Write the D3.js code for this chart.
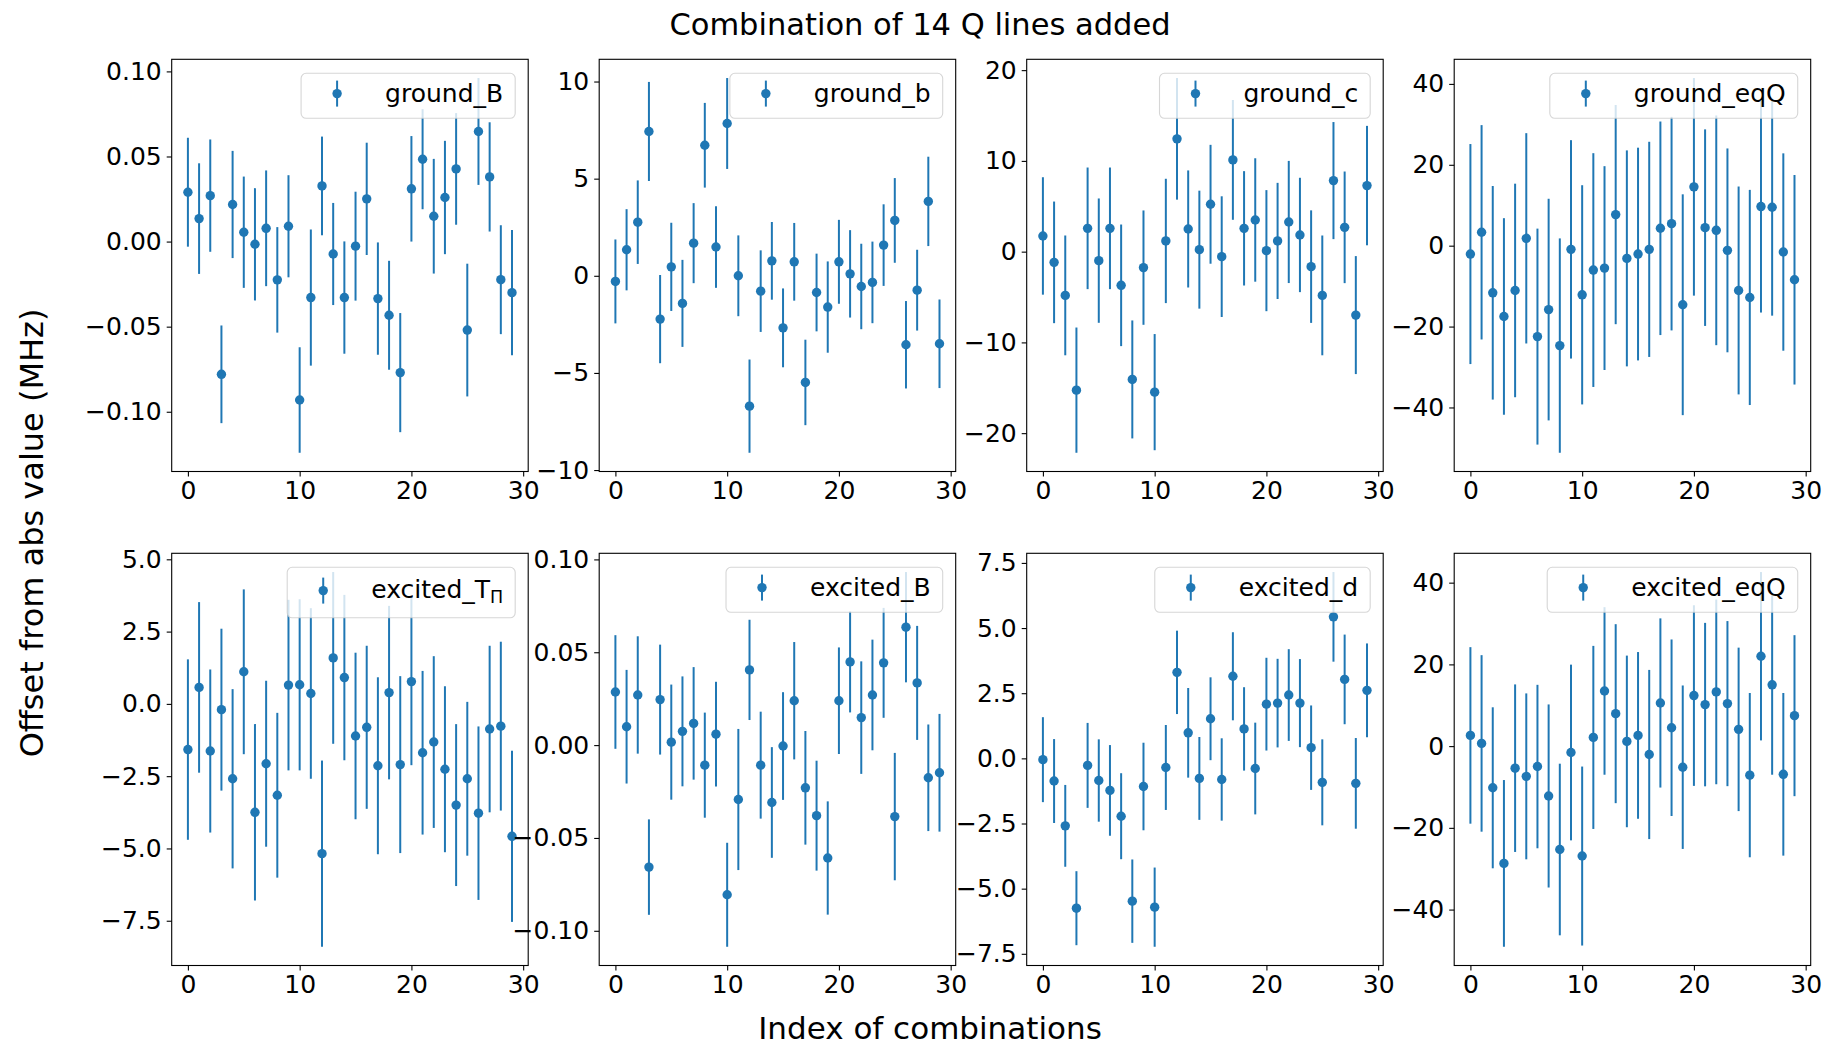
<!DOCTYPE html>
<html>
<head>
<meta charset="utf-8">
<script src="https://cdn.jsdelivr.net/npm/d3@7"></script>
<style>
  body { margin: 0; background: #fff; }
  svg { display: block; }
  text { font-family: "DejaVu Sans", sans-serif; fill: #000; }
</style>
</head>
<body>
<svg id="chart" width="1830" height="1048"></svg>
<script>
// Index of each line combination (x axis)
const combinationIndex = [0,1,2,3,4,5,6,7,8,9,10,11,12,13,14,15,16,17,18,19,20,21,22,23,24,25,26,27,28,29];

// Fitted offsets and 1-sigma uncertainties (MHz) per parameter
const groundBVal = [0.029, 0.0135, 0.027, -0.078, 0.0218, 0.0055, -0.0016, 0.0078, -0.0225, 0.009, -0.0931, -0.0329, 0.0327, -0.0073, -0.0329, -0.0027, 0.0251, -0.0335, -0.0433, -0.077, 0.031, 0.0484, 0.0149, 0.0259, 0.0427, -0.052, 0.0647, 0.038, -0.0224, -0.030];
const groundBErr = [0.032, 0.0325, 0.033, 0.0287, 0.0315, 0.0327, 0.033, 0.034, 0.031, 0.030, 0.031, 0.040, 0.029, 0.030, 0.033, 0.032, 0.033, 0.033, 0.032, 0.035, 0.031, 0.0294, 0.0337, 0.0333, 0.0328, 0.039, 0.0314, 0.0321, 0.032, 0.0368];

const groundSmallBVal = [-0.29, 1.34, 2.76, 7.43, -2.23, 0.46, -1.42, 1.68, 6.72, 1.48, 7.84, 0.0, -6.71, -0.79, 0.77, -2.68, 0.72, -5.49, -0.86, -1.61, 0.72, 0.10, -0.55, -0.34, 1.58, 2.85, -3.55, -0.74, 3.83, -3.5];
const groundSmallBErr = [2.16, 2.09, 2.15, 2.55, 2.27, 2.27, 2.24, 2.06, 2.18, 2.1, 2.34, 2.08, 2.4, 2.1, 2.0, 2.03, 2.0, 2.2, 2.0, 2.35, 2.16, 2.25, 2.2, 2.1, 2.1, 2.18, 2.25, 2.08, 2.3, 2.28];

const groundCVal = [1.73, -1.18, -4.82, -15.26, 2.57, -0.99, 2.57, -3.71, -14.08, -1.76, -15.48, 1.18, 12.43, 2.5, 0.22, 5.22, -0.55, 10.11, 2.57, 3.49, 0.11, 1.18, 3.27, 1.84, -1.65, -4.82, 7.83, 2.68, -6.99, 7.28];
const groundCErr = [6.47, 6.7, 6.6, 6.9, 6.7, 6.85, 6.7, 6.7, 6.5, 6.3, 6.4, 6.85, 6.7, 6.45, 6.5, 6.55, 6.65, 6.6, 6.3, 6.8, 6.67, 6.4, 6.73, 6.3, 6.2, 6.6, 6.45, 6.15, 6.5, 6.58];

const groundEqQVal = [-2.07, 3.31, -11.65, -17.5, -11.07, 1.82, -22.48, -15.8, -24.7, -0.91, -12.15, -6.03, -5.54, 7.69, -3.14, -2.07, -0.91, 4.3, 5.45, -14.6, 14.55, 4.46, 3.8, -1.16, -11.07, -12.8, 9.67, 9.5, -1.57, -8.43];
const groundEqQErr = [27.2, 26.5, 26.4, 24.3, 26.4, 26.0, 26.7, 27.4, 26.5, 27.0, 27.1, 28.9, 25.2, 27.1, 26.7, 26.3, 26.6, 26.4, 26.4, 27.3, 26.9, 24.3, 28.4, 25.2, 25.7, 26.6, 26.2, 26.8, 24.4, 25.9];

const excitedTVal = [-1.58, 0.57, -1.63, -0.2, -2.59, 1.11, -3.75, -2.07, -3.16, 0.65, 0.66, 0.36, -5.18, 1.59, 0.91, -1.11, -0.81, -2.14, 0.39, -2.1, 0.77, -1.69, -1.32, -2.26, -3.5, -2.59, -3.78, -0.87, -0.77, -4.58];
const excitedTErr = [3.12, 2.95, 2.82, 2.8, 3.1, 2.85, 3.05, 2.87, 2.85, 2.95, 2.96, 2.95, 3.22, 2.97, 2.86, 2.88, 2.82, 3.06, 3.0, 3.06, 2.89, 2.83, 2.97, 2.87, 2.8, 2.66, 3.0, 2.88, 2.92, 2.96];

const excitedBVal = [0.0286, 0.0099, 0.027, -0.0657, 0.0245, 0.0016, 0.0074, 0.0117, -0.0108, 0.0059, -0.0806, -0.0293, 0.0405, -0.0108, -0.0309, -0.0005, 0.0239, -0.023, -0.038, -0.0608, 0.0239, 0.0448, 0.0148, 0.027, 0.0443, -0.0385, 0.0635, 0.0335, -0.0176, -0.0149];
const excitedBErr = [0.0306, 0.0306, 0.0316, 0.0257, 0.0296, 0.031, 0.0296, 0.0303, 0.0283, 0.0282, 0.028, 0.038, 0.027, 0.0288, 0.0298, 0.029, 0.0316, 0.0306, 0.0296, 0.0305, 0.0287, 0.0272, 0.0303, 0.0298, 0.0296, 0.0343, 0.0297, 0.0307, 0.0287, 0.0317];

const excitedDVal = [-0.05, -0.87, -2.59, -5.75, -0.27, -0.85, -1.23, -2.22, -5.48, -1.08, -5.71, -0.35, 3.3, 0.98, -0.77, 1.52, -0.81, 3.15, 1.13, -0.39, 2.08, 2.12, 2.43, 2.12, 0.41, -0.92, 5.43, 3.03, -0.96, 2.61];
const excitedDErr = [1.63, 1.61, 1.57, 1.42, 1.63, 1.58, 1.74, 1.65, 1.6, 1.68, 1.52, 1.63, 1.6, 1.72, 1.59, 1.59, 1.58, 1.69, 1.6, 1.76, 1.78, 1.7, 1.76, 1.69, 1.62, 1.65, 1.72, 1.72, 1.74, 1.8];

const excitedEqQVal = [2.62, 0.66, -10.2, -28.7, -5.4, -7.4, -5.0, -12.2, -25.3, -1.56, -26.9, 2.13, 13.5, 7.94, 1.15, 2.62, -2.05, 10.56, 4.5, -5.16, 12.37, 10.16, 13.27, 10.4, 4.1, -7.1, 22.0, 15.0, -6.9, 7.45];
const excitedEqQErr = [21.6, 21.6, 19.7, 20.4, 20.5, 20.3, 20.0, 22.4, 21.0, 21.5, 21.9, 22.4, 20.5, 21.9, 21.0, 20.4, 20.7, 20.7, 21.6, 20.0, 22.1, 20.0, 22.6, 20.2, 20.0, 20.1, 20.6, 22.0, 19.9, 19.7];

// Panel labels, y tick spacing, and shared x ticks
const panelLabels = ["ground_B", "ground_b", "ground_c", "ground_eqQ", "excited_TΠ", "excited_B", "excited_d", "excited_eqQ"];
const yTickSteps = [0.05, 5, 10, 20, 2.5, 0.05, 2.5, 20];
const xTicks = [0, 10, 20, 30];

const panelValues = [groundBVal, groundSmallBVal, groundCVal, groundEqQVal, excitedTVal, excitedBVal, excitedDVal, excitedEqQVal];
const panelErrors = [groundBErr, groundSmallBErr, groundCErr, groundEqQErr, excitedTErr, excitedBErr, excitedDErr, excitedEqQErr];

// ---- layout ----
const COLOR = "#1f77b4";
const TICK_FONT = 25;
const axLeft0 = 171.7, axPitch = 427.5, axW = 356.5, axH = 412.2;
const axTops = [59.3, 553.3];

const svg = d3.select("#chart");
const minus = s => s.replace(/-/g, "\u2212");

// matplotlib-style autoscale: data limits (incl. error bars) plus 5% margin
function padded(lo, hi) {
  const m = (hi - lo) * 0.05;
  return [lo - m, hi + m];
}

panelLabels.forEach((label, p) => {
  const vals = panelValues[p], errs = panelErrors[p];
  const row = Math.floor(p / 4), col = p % 4;
  const ox = axLeft0 + col * axPitch, oy = axTops[row];

  const g = svg.append("g").attr("transform", `translate(${ox},${oy})`);

  const x = d3.scaleLinear()
    .domain(padded(d3.min(combinationIndex), d3.max(combinationIndex)))
    .range([0, axW]);
  const lo = d3.min(vals, (v, i) => v - errs[i]);
  const hi = d3.max(vals, (v, i) => v + errs[i]);
  const y = d3.scaleLinear().domain(padded(lo, hi)).range([axH, 0]);

  // y ticks at multiples of the step within the domain
  const step = yTickSteps[p];
  const [d0, d1] = y.domain();
  const yTicks = d3.range(Math.ceil(d0 / step - 1e-9), Math.floor(d1 / step + 1e-9) + 1)
    .map(k => +(k * step).toFixed(6));
  const dec = step < 0.1 ? 2 : (step % 1 !== 0 ? 1 : 0);
  const yFmt = v => minus(d3.format(`.${dec}f`)(v));

  // error bars
  g.append("g").selectAll("line")
    .data(combinationIndex)
    .join("line")
    .attr("x1", i => x(i)).attr("x2", i => x(i))
    .attr("y1", i => y(vals[i] - errs[i]))
    .attr("y2", i => y(vals[i] + errs[i]))
    .attr("stroke", COLOR).attr("stroke-width", 2);

  // markers
  g.append("g").selectAll("circle")
    .data(combinationIndex)
    .join("circle")
    .attr("cx", i => x(i)).attr("cy", i => y(vals[i]))
    .attr("r", 4.7).attr("fill", COLOR);

  // axes
  const yAxis = g.append("g")
    .call(d3.axisLeft(y).tickValues(yTicks).tickSize(5).tickPadding(5).tickFormat(yFmt));
  const xAxis = g.append("g").attr("transform", `translate(0,${axH})`)
    .call(d3.axisBottom(x).tickValues(xTicks).tickSize(5).tickPadding(5).tickFormat(d => minus(String(d))));
  [yAxis, xAxis].forEach(a => {
    a.select(".domain").remove();
    a.selectAll(".tick line").attr("stroke", "#000").attr("stroke-width", 1.1);
    a.selectAll(".tick text").attr("font-size", TICK_FONT)
      .attr("font-family", "DejaVu Sans").attr("fill", "#000");
  });

  // frame
  g.append("rect").attr("x", 0).attr("y", 0).attr("width", axW).attr("height", axH)
    .attr("fill", "none").attr("stroke", "#000").attr("stroke-width", 1.1);

  // legend (upper right, translucent)
  const hasSub = label.endsWith("Π");
  const boxTop = 14;
  const boxH = hasSub ? 50.5 : 45;
  const baseY = boxTop + (hasSub ? 30.3 : 29);
  const handleY = boxTop + (hasSub ? 23.3 : 20.3);
  const boxRight = axW - 13;
  const textEnd = boxRight - 12;

  const lg = g.append("g");
  const rect = lg.append("rect");
  const txt = lg.append("text")
    .attr("x", textEnd).attr("y", baseY)
    .attr("text-anchor", "end")
    .attr("font-size", TICK_FONT);
  if (hasSub) {
    txt.append("tspan").text(label.slice(0, -1));
    txt.append("tspan").text(label.slice(-1))
      .attr("font-size", TICK_FONT * 0.7).attr("dy", 5);
  } else {
    txt.text(label);
  }
  const tw = txt.node().getComputedTextLength();
  const textStart = textEnd - tw;
  const hx = textStart - 48;
  const boxLeft = hx - 36;
  rect.attr("x", boxLeft).attr("y", boxTop)
    .attr("width", boxRight - boxLeft).attr("height", boxH)
    .attr("rx", 5).attr("ry", 5)
    .attr("fill", "#fff").attr("fill-opacity", 0.8)
    .attr("stroke", "#cccccc").attr("stroke-opacity", 0.8).attr("stroke-width", 1.1);
  lg.append("line")
    .attr("x1", hx).attr("x2", hx)
    .attr("y1", handleY - 13).attr("y2", handleY + 13)
    .attr("stroke", COLOR).attr("stroke-width", 2);
  lg.append("circle").attr("cx", hx).attr("cy", handleY).attr("r", 4.7).attr("fill", COLOR);
  txt.raise();
});

// figure-level title and axis labels
svg.append("text")
  .attr("x", 920).attr("y", 35)
  .attr("text-anchor", "middle").attr("font-size", 30.5)
  .text("Combination of 14 Q lines added");

svg.append("text")
  .attr("x", 930).attr("y", 1039)
  .attr("text-anchor", "middle").attr("font-size", 31)
  .text("Index of combinations");

svg.append("text")
  .attr("transform", "translate(43,533) rotate(-90)")
  .attr("text-anchor", "middle").attr("font-size", 32)
  .text("Offset from abs value (MHz)");
</script>
</body>
</html>
